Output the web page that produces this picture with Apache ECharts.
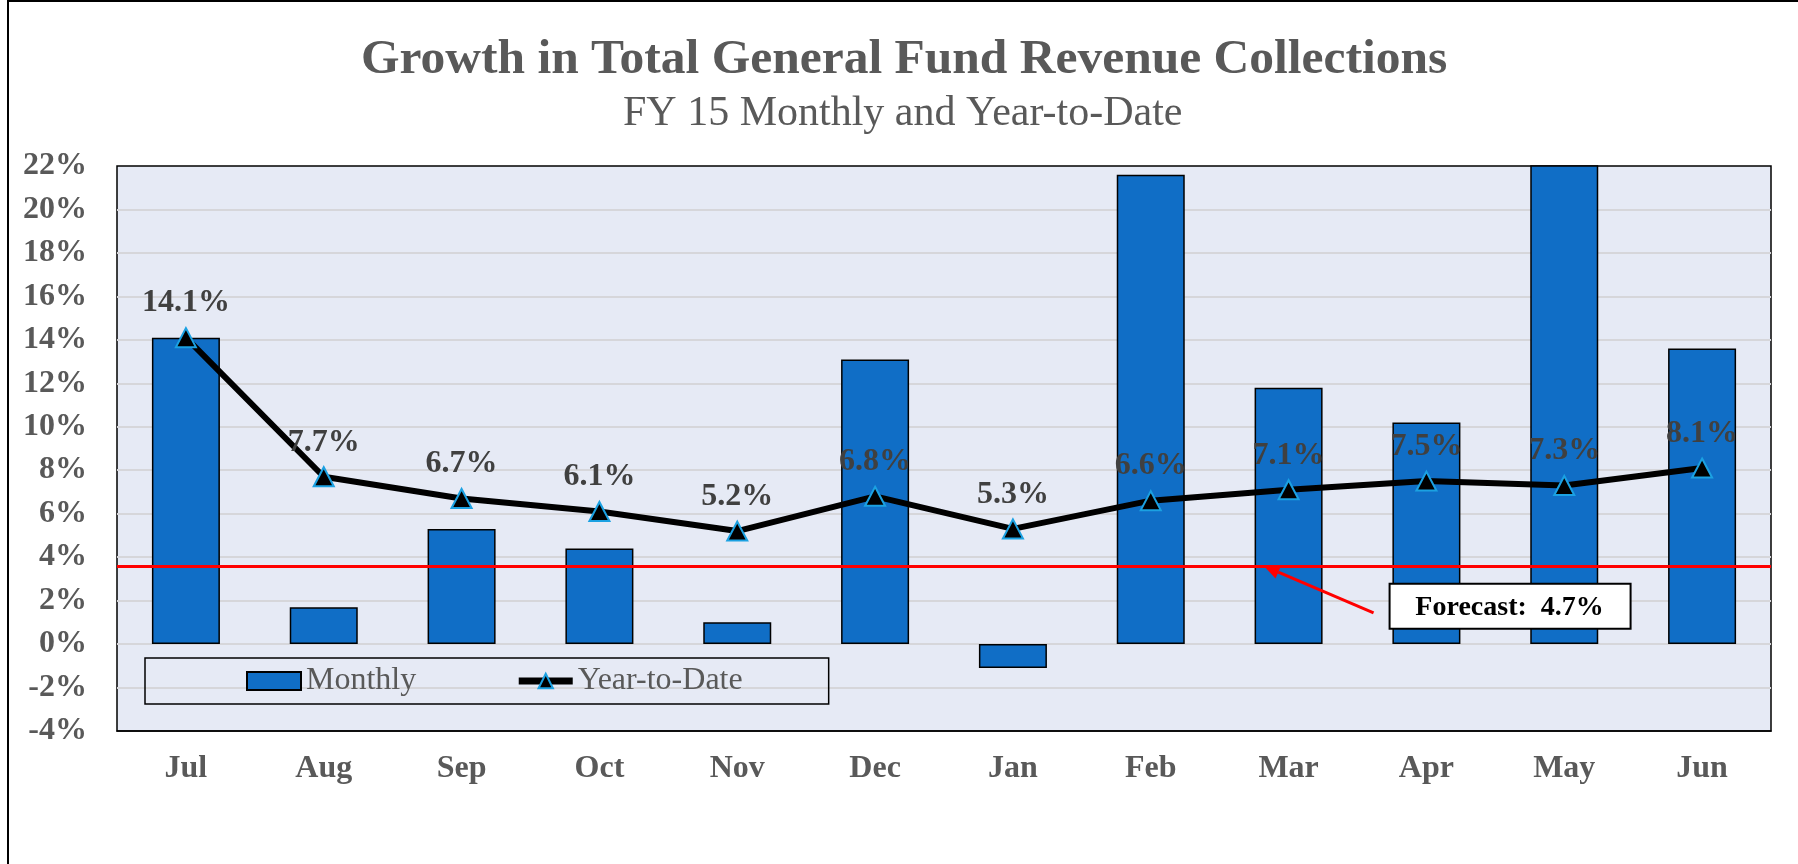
<!DOCTYPE html>
<html>
<head>
<meta charset="utf-8">
<script src="https://cdn.jsdelivr.net/npm/echarts@6/dist/echarts.min.js"></script>
<style>
    html, body { margin: 0; padding: 0; background: #fff; }
    #chart { width: 1798px; height: 864px; }
</style>
</head>
<body>
<div id="chart"></div>
<script>
// 数据 ===================
var months = ['Jul', 'Aug', 'Sep', 'Oct', 'Nov', 'Dec', 'Jan', 'Feb', 'Mar', 'Apr', 'May', 'Jun']
var monthly = [14.1, 1.7, 5.3, 4.4, 1.0, 13.1, -1.1, 21.6, 11.8, 10.2, 25.0, 13.6]
var yearToDate = [14.1, 7.7, 6.7, 6.1, 5.2, 6.8, 5.3, 6.6, 7.1, 7.5, 7.3, 8.1]
var forecastLine = 3.6
var forecastText = 'Forecast:  4.7%'

var font = '"Liberation Serif", "Times New Roman", serif'

var myChart = echarts.init(document.getElementById('chart'))

var option = {
    animation: false,
    title: [
        {
            text: 'Growth in Total General Fund Revenue Collections',
            left: 356,
            top: 30,
            textStyle: {
                fontFamily: font,
                fontSize: 49.5,
                fontWeight: 'bold',
                color: '#595959'
            }
        },
        {
            text: 'FY 15 Monthly and Year-to-Date',
            left: 618,
            top: 88,
            textStyle: {
                fontFamily: font,
                fontSize: 42,
                fontWeight: 'normal',
                color: '#595959'
            }
        }
    ],
    legend: {
        left: 145,
        top: 658,
        padding: [7, 86, 7, 101],
        itemGap: 99,
        itemWidth: 54,
        itemHeight: 18,
        borderColor: '#000',
        borderWidth: 1.5,
        textStyle: {
            fontFamily: font,
            fontSize: 32,
            color: '#595959'
        },
        data: [
            { name: 'Monthly', icon: 'rect' },
            { name: 'Year-to-Date', lineStyle: { width: 7 } }
        ]
    },
    grid: {
        left: 117,
        right: 27,
        top: 166,
        bottom: 133,
        show: true,
        backgroundColor: '#E6EAF5',
        borderColor: '#000',
        borderWidth: 1.5
    },
    xAxis: {
        type: 'category',
        data: months,
        axisLine: { show: true, onZero: false, lineStyle: { color: '#000', width: 1.5 } },
        axisTick: { show: false },
        axisLabel: {
            margin: 22,
            fontFamily: font,
            fontSize: 32,
            fontWeight: 'bold',
            color: '#595959'
        }
    },
    yAxis: {
        type: 'value',
        min: -4,
        max: 22,
        interval: 2,
        axisLine: { show: false },
        axisTick: { show: false },
        axisLabel: {
            margin: 30,
            formatter: '{value}%',
            fontFamily: font,
            fontSize: 32,
            fontWeight: 'bold',
            color: '#595959'
        },
        splitLine: {
            showMinLine: false,
            showMaxLine: false,
            lineStyle: { color: '#D6D6DA', width: 2 }
        }
    },
    series: [
        {
            name: 'Monthly',
            type: 'bar',
            barWidth: 68,
            data: monthly,
            itemStyle: {
                color: '#106EC6',
                borderColor: '#000',
                borderWidth: 1.5
            }
        },
        {
            name: 'Year-to-Date',
            type: 'line',
            data: yearToDate,
            symbol: 'triangle',
            symbolSize: [20, 19],
            lineStyle: { color: '#000', width: 6 },
            itemStyle: {
                color: '#000',
                borderColor: '#1BA1E2',
                borderWidth: 2
            },
            label: {
                show: true,
                position: 'top',
                distance: 8,
                formatter: function (p) {
                    return p.value.toFixed(1) + '%'
                },
                fontFamily: font,
                fontSize: 32,
                fontWeight: 'bold',
                color: '#404040'
            },
            z: 5,
            markLine: {
                silent: true,
                symbol: 'none',
                label: { show: false },
                lineStyle: { color: '#FF0000', width: 3, type: 'solid' },
                data: [{ yAxis: forecastLine }]
            }
        }
    ]
}

myChart.setOption(option)

// 预测 标注 ===================
var tip = myChart.convertToPixel({ gridIndex: 0 }, ['Mar', forecastLine])
var tipX = tip[0] - 25
var tipY = tip[1]
var tailX = tipX + 110
var tailY = tipY + 47
var ang = Math.atan2(tailY - tipY, tailX - tipX)
var headLen = 16, headW = 7
var bx = tipX + Math.cos(ang) * headLen
var by = tipY + Math.sin(ang) * headLen
var boxX = tipX + 126
var boxY = tipY + 18

myChart.setOption({
    graphic: [
        {
            type: 'rect',
            shape: { x: 8, y: 1, width: 1800, height: 880 },
            style: { fill: 'none', stroke: '#000', lineWidth: 2 },
            silent: true
        },
        {
            type: 'line',
            shape: { x1: tailX, y1: tailY, x2: bx, y2: by },
            style: { stroke: '#FF0000', lineWidth: 3 },
            z: 100
        },
        {
            type: 'polygon',
            shape: {
                points: [
                    [tipX, tipY],
                    [bx - Math.sin(ang) * headW, by + Math.cos(ang) * headW],
                    [bx + Math.sin(ang) * headW, by - Math.cos(ang) * headW]
                ]
            },
            style: { fill: '#FF0000' },
            z: 100
        },
        {
            type: 'rect',
            shape: { x: boxX, y: boxY, width: 241, height: 45 },
            style: { fill: '#fff', stroke: '#000', lineWidth: 2 },
            z: 100
        },
        {
            type: 'text',
            x: boxX + 120,
            y: boxY + 24,
            style: {
                text: forecastText,
                font: 'bold 28px ' + font,
                fill: '#000',
                align: 'center',
                verticalAlign: 'middle'
            },
            z: 101
        }
    ]
})

window.addEventListener('resize', function () {
    myChart.resize()
})
</script>
</body>
</html>
